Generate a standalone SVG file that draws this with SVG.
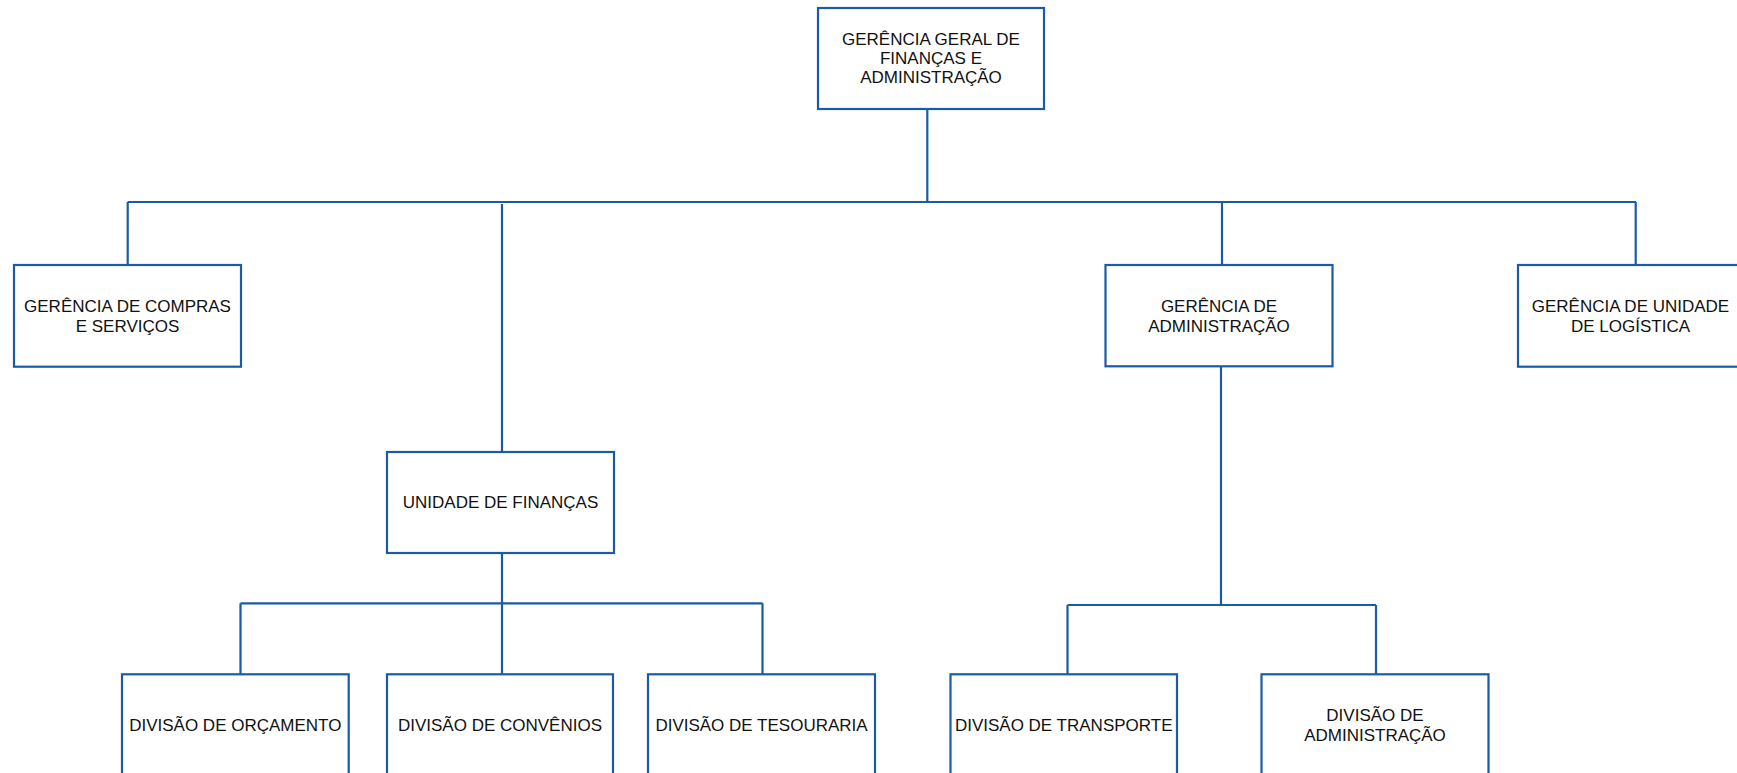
<svg xmlns="http://www.w3.org/2000/svg" width="1737" height="773" viewBox="0 0 1737 773">
<style>
.box{fill:#ffffff;stroke:#1a5ba6;stroke-width:2.2}
.ln{fill:none;stroke:#1a5ba6;stroke-width:2.2}
.t{font-family:"Liberation Sans",Arial,sans-serif;font-size:17px;fill:#111111;text-anchor:middle}
</style>
<rect width="1737" height="773" fill="#ffffff"/>
<g id="connectors">
<path class="ln" d="M927.3 109 V203"/>
<path class="ln" d="M127.7 202 H1636"/>
<path class="ln" d="M127.7 202 V265"/>
<path class="ln" d="M502 204 V452"/>
<path class="ln" d="M1222 202 V265"/>
<path class="ln" d="M1635.7 202 V265"/>
<path class="ln" d="M502 553 V674"/>
<path class="ln" d="M240.5 603.3 H762.5"/>
<path class="ln" d="M240.5 603.3 V674"/>
<path class="ln" d="M762.5 603.3 V674"/>
<path class="ln" d="M1221 366 V606"/>
<path class="ln" d="M1067.5 605 H1376"/>
<path class="ln" d="M1067.5 605 V674"/>
<path class="ln" d="M1376 605 V674"/>
</g>
<g id="n-gerencia-geral">
<rect class="box" x="818" y="8" width="226" height="101"/>
<text class="t" x="931" y="45.3">GERÊNCIA GERAL DE</text>
<text class="t" x="931" y="64.3">FINANÇAS E</text>
<text class="t" x="931" y="83.3">ADMINISTRAÇÃO</text>
</g>
<g id="n-compras">
<rect class="box" x="14" y="265" width="227" height="101.7"/>
<text class="t" x="127.5" y="312.3">GERÊNCIA DE COMPRAS</text>
<text class="t" x="127.5" y="331.7">E SERVIÇOS</text>
</g>
<g id="n-unidade-financas">
<rect class="box" x="387" y="452" width="227" height="101"/>
<text class="t" x="500.5" y="507.7">UNIDADE DE FINANÇAS</text>
</g>
<g id="n-gerencia-adm">
<rect class="box" x="1105.5" y="265" width="227" height="101.3"/>
<text class="t" x="1219" y="312.3">GERÊNCIA DE</text>
<text class="t" x="1219" y="331.5">ADMINISTRAÇÃO</text>
</g>
<g id="n-logistica">
<rect class="box" x="1518" y="265" width="226" height="101.7"/>
<text class="t" x="1630.5" y="312.3">GERÊNCIA DE UNIDADE</text>
<text class="t" x="1630.5" y="331.7">DE LOGÍSTICA</text>
</g>
<g id="n-orcamento">
<rect class="box" x="122" y="674.3" width="226.7" height="102"/>
<text class="t" x="235.3" y="731">DIVISÃO DE ORÇAMENTO</text>
</g>
<g id="n-convenios">
<rect class="box" x="387" y="674.3" width="226" height="102"/>
<text class="t" x="500" y="731">DIVISÃO DE CONVÊNIOS</text>
</g>
<g id="n-tesouraria">
<rect class="box" x="648" y="674.3" width="227" height="102"/>
<text class="t" x="761.5" y="731">DIVISÃO DE TESOURARIA</text>
</g>
<g id="n-transporte">
<rect class="box" x="950.5" y="674.3" width="226.5" height="102"/>
<text class="t" x="1063.7" y="731">DIVISÃO DE TRANSPORTE</text>
</g>
<g id="n-div-adm">
<rect class="box" x="1261.5" y="674.3" width="227" height="102"/>
<text class="t" x="1375" y="721.2">DIVISÃO DE</text>
<text class="t" x="1375" y="740.6">ADMINISTRAÇÃO</text>
</g>
</svg>
